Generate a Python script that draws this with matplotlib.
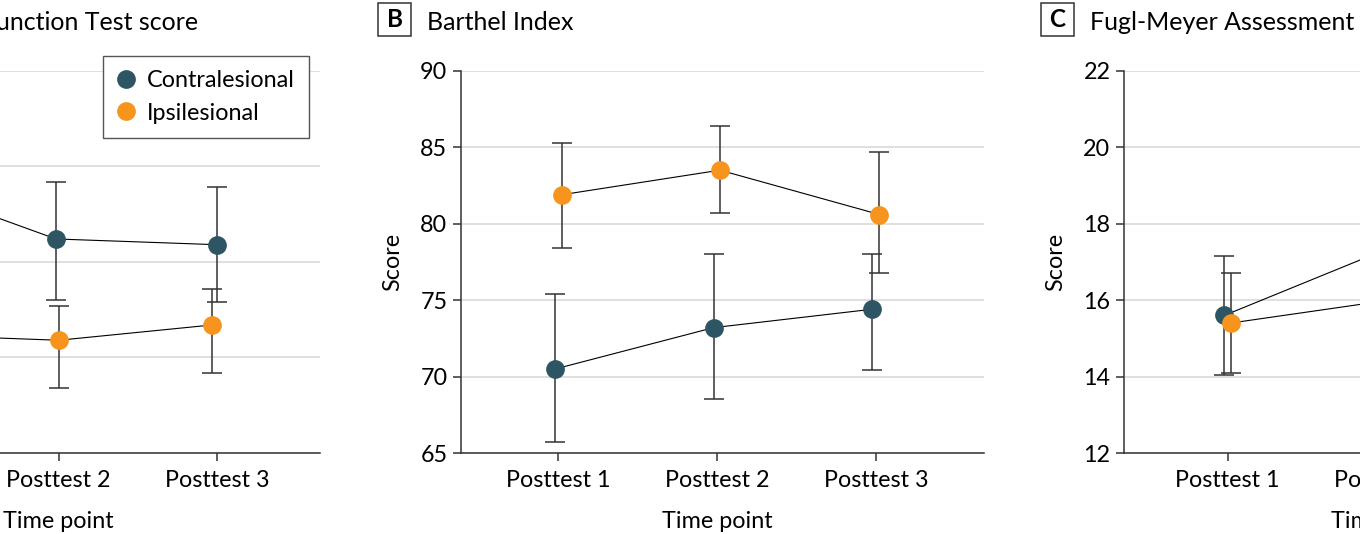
import matplotlib
matplotlib.use("Agg")
import matplotlib.pyplot as plt
from matplotlib.lines import Line2D
from matplotlib.patches import Rectangle
from matplotlib.transforms import blended_transform_factory

W, H = 1360, 534
AX_TOP, AX_BOTTOM = 70.8, 453.0   # pixel rows of the plot area
AX_WIDTH = 523

TIME_POINTS = ["Posttest 1", "Posttest 2", "Posttest 3"]
GROUPS = ["Contralesional", "Ipsilesional"]
COLORS = {"Contralesional": "#2e5563", "Ipsilesional": "#f7941d"}

# A: Wolf Motor Function Test score
A_CONTRA_MEAN = [49.2, 46.2, 45.9]
A_CONTRA_LO = [46.1, 43.0, 42.9]
A_CONTRA_HI = [52.3, 49.2, 48.9]
A_IPSI_MEAN = [41.2, 40.9, 41.7]
A_IPSI_LO = [38.7, 38.4, 39.2]
A_IPSI_HI = [43.7, 42.7, 43.6]

# B: Barthel Index
B_CONTRA_MEAN = [70.5, 73.2, 74.4]
B_CONTRA_LO = [65.7, 68.5, 70.4]
B_CONTRA_HI = [75.4, 78.0, 78.0]
B_IPSI_MEAN = [81.9, 83.5, 80.6]
B_IPSI_LO = [78.4, 80.7, 76.8]
B_IPSI_HI = [85.3, 86.4, 84.7]

# C: Fugl-Meyer Assessment
C_CONTRA_MEAN = [15.6, 17.3, 17.1]
C_CONTRA_LO = [14.05, 15.2, 15.0]
C_CONTRA_HI = [17.15, 19.4, 19.2]
C_IPSI_MEAN = [15.4, 16.0, 16.3]
C_IPSI_LO = [14.1, 14.4, 14.6]
C_IPSI_HI = [16.7, 17.6, 18.0]

PANELS = [
    dict(letter="A", title="Wolf Motor Function Test score", left=-203, xlim=(0.347, 3.651),
         ylim=(35, 55), ystep=5,
         data={"Contralesional": (A_CONTRA_MEAN, A_CONTRA_LO, A_CONTRA_HI),
               "Ipsilesional": (A_IPSI_MEAN, A_IPSI_LO, A_IPSI_HI)},
         dodge={"Contralesional": [-0.017, -0.017, 0.0], "Ipsilesional": [0.02, 0.0, -0.03]},
         legend=True, title_right=198),
    dict(letter="B", title="Barthel Index", left=461, xlim=(0.39, 3.68),
         ylim=(65, 90), ystep=5,
         data={"Contralesional": (B_CONTRA_MEAN, B_CONTRA_LO, B_CONTRA_HI),
               "Ipsilesional": (B_IPSI_MEAN, B_IPSI_LO, B_IPSI_HI)},
         dodge={"Contralesional": [-0.016, -0.021, -0.026], "Ipsilesional": [0.028, 0.019, 0.022]},
         legend=False, title_right=None),
    dict(letter="C", title="Fugl-Meyer Assessment of Upper Extremity score", left=1124,
         xlim=(0.348, 3.637), ylim=(12, 22), ystep=2,
         data={"Contralesional": (C_CONTRA_MEAN, C_CONTRA_LO, C_CONTRA_HI),
               "Ipsilesional": (C_IPSI_MEAN, C_IPSI_LO, C_IPSI_HI)},
         dodge={"Contralesional": [-0.021, -0.02, -0.02], "Ipsilesional": [0.019, 0.02, 0.02]},
         legend=False, title_right=None),
]

plt.rcParams["font.family"] = ["Lato", "DejaVu Sans"]
plt.rcParams["font.size"] = 16.8

fig = plt.figure(figsize=(W / 100, H / 100), dpi=100)

for p in PANELS:
    ax = fig.add_axes([p["left"] / W, 1 - AX_BOTTOM / H, AX_WIDTH / W, (AX_BOTTOM - AX_TOP) / H])
    x = [1, 2, 3]
    for g in GROUPS:
        mean, lo, hi = p["data"][g]
        xs = [xi + d for xi, d in zip(x, p["dodge"][g])]
        ax.plot(xs, mean, color="black", lw=0.8, zorder=3)
        yerr = [[m - l for m, l in zip(mean, lo)], [h - m for m, h in zip(mean, hi)]]
        ax.errorbar(xs, mean, yerr=yerr, fmt="none", ecolor="#333333", elinewidth=1.1,
                    capsize=7.5, capthick=1.1, zorder=4)
        ax.plot(xs, mean, "o", color=COLORS[g], markersize=13.5, markeredgewidth=0, zorder=5)

    ax.set_xlim(*p["xlim"])
    ax.set_ylim(*p["ylim"])
    ax.set_xticks(x)
    ax.set_xticklabels(TIME_POINTS)
    y0, y1 = p["ylim"]
    ax.set_yticks(range(y0, y1 + 1, p["ystep"]))
    ax.grid(axis="y", color="#dcdcdc", lw=1.3, zorder=0)
    ax.set_axisbelow(True)
    for s in ("top", "right"):
        ax.spines[s].set_visible(False)
    for s in ("left", "bottom"):
        ax.spines[s].set_color("#333333")
        ax.spines[s].set_linewidth(1.1)
    ax.tick_params(axis="both", length=5.8, width=1.1, color="#333333")
    ax.tick_params(axis="x", pad=6.5)
    ax.tick_params(axis="y", pad=4)

    ax.set_ylabel("Score", va="center")
    ax.yaxis.set_label_coords(-68 / AX_WIDTH, 0.5)
    ax.set_xlabel("Time point", va="center")
    ax.xaxis.set_label_coords(2, -(522 - AX_BOTTOM) / (AX_BOTTOM - AX_TOP),
                              transform=blended_transform_factory(ax.transData, ax.transAxes))

    # panel letter box and title
    bx = p["left"] - 83
    fig.add_artist(Rectangle((bx / W, 1 - 36 / H), 33 / W, 33 / H, transform=fig.transFigure,
                             fill=False, ec="#333333", lw=1.1))
    fig.text((bx + 16.5) / W, 1 - 19.5 / H, p["letter"], ha="center", va="center",
             fontweight="bold", fontsize=17.5)
    if p["title_right"] is not None:
        fig.text(p["title_right"] / W, 1 - 30 / H, p["title"], ha="right", va="baseline",
                 fontsize=18)
    else:
        fig.text((p["left"] - 34) / W, 1 - 30 / H, p["title"], ha="left", va="baseline",
                 fontsize=18)

    if p["legend"]:
        handles = [Line2D([], [], marker="o", ls="none", color=COLORS[g], markersize=13.5,
                          markeredgewidth=0) for g in GROUPS]
        leg = ax.legend(handles, GROUPS, loc="upper left",
                        bbox_to_anchor=(103 / W, 1 - 56 / H), bbox_transform=fig.transFigure,
                        frameon=True, fancybox=False, edgecolor="#555555", framealpha=1,
                        handletextpad=0.5, handlelength=0.8, labelspacing=0.5,
                        borderpad=0.6, borderaxespad=0)
        leg.get_frame().set_linewidth(1.0)

fig.savefig("out.png", dpi=100)
